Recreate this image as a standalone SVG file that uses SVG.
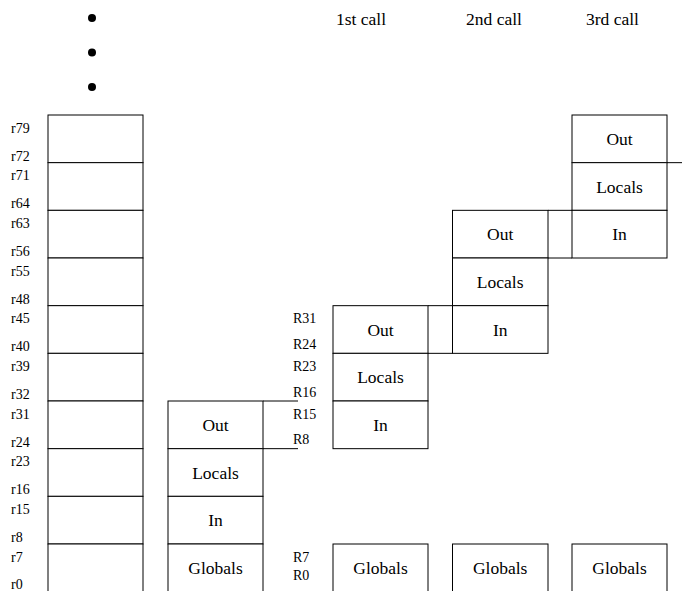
<svg xmlns="http://www.w3.org/2000/svg" width="682" height="591" viewBox="0 0 682 591" font-family="'Liberation Serif', 'Times New Roman', Times, 'DejaVu Serif', serif">
<style>
.b{fill:#fff;stroke:#000;stroke-width:1}
.c{stroke:#000;stroke-width:1;fill:none}
.t{font-size:17.5px;fill:#000;text-anchor:middle}
.h{font-size:17.5px;fill:#000}
.l{font-size:14px;fill:#000}
</style>
<rect width="682" height="591" fill="#fff"/>
<g id="dots">
<circle cx="92" cy="18" r="4"/>
<circle cx="92" cy="52.5" r="4"/>
<circle cx="92" cy="87" r="4"/>
</g>
<g id="headers">
<text class="h" x="336" y="25">1st call</text>
<text class="h" x="466" y="25">2nd call</text>
<text class="h" x="586" y="25">3rd call</text>
</g>
<g id="regfile">
<rect class="b" x="48" y="115" width="95" height="47.67"/>
<rect class="b" x="48" y="162.67" width="95" height="47.67"/>
<rect class="b" x="48" y="210.33" width="95" height="47.67"/>
<rect class="b" x="48" y="258" width="95" height="47.67"/>
<rect class="b" x="48" y="305.67" width="95" height="47.67"/>
<rect class="b" x="48" y="353.33" width="95" height="47.67"/>
<rect class="b" x="48" y="401" width="95" height="47.67"/>
<rect class="b" x="48" y="448.67" width="95" height="47.67"/>
<rect class="b" x="48" y="496.33" width="95" height="47.67"/>
<rect class="b" x="48" y="544" width="95" height="60"/>
<text class="l" x="11" y="132.5">r79</text><text class="l" x="11" y="160.7">r72</text>
<text class="l" x="11" y="180.2">r71</text><text class="l" x="11" y="208.3">r64</text>
<text class="l" x="11" y="227.8">r63</text><text class="l" x="11" y="256">r56</text>
<text class="l" x="11" y="275.5">r55</text><text class="l" x="11" y="303.7">r48</text>
<text class="l" x="11" y="323.2">r45</text><text class="l" x="11" y="351.3">r40</text>
<text class="l" x="11" y="370.8">r39</text><text class="l" x="11" y="399">r32</text>
<text class="l" x="11" y="418.5">r31</text><text class="l" x="11" y="446.7">r24</text>
<text class="l" x="11" y="466.2">r23</text><text class="l" x="11" y="494.3">r16</text>
<text class="l" x="11" y="513.8">r15</text><text class="l" x="11" y="542">r8</text>
<text class="l" x="11" y="561.5">r7</text><text class="l" x="11" y="588.5">r0</text>
</g>
<g id="caller">
<rect class="b" x="168" y="401" width="95" height="47.67"/><text class="t" x="215.5" y="430.8">Out</text>
<rect class="b" x="168" y="448.67" width="95" height="47.67"/><text class="t" x="215.5" y="478.5">Locals</text>
<rect class="b" x="168" y="496.33" width="95" height="47.67"/><text class="t" x="215.5" y="526.2">In</text>
<rect class="b" x="168" y="544" width="95" height="60"/><text class="t" x="215.5" y="573.8">Globals</text>
</g>
<g id="call1">
<rect class="b" x="333" y="305.67" width="95" height="47.67"/><text class="t" x="380.5" y="335.5">Out</text>
<rect class="b" x="333" y="353.33" width="95" height="47.67"/><text class="t" x="380.5" y="383.2">Locals</text>
<rect class="b" x="333" y="401" width="95" height="47.67"/><text class="t" x="380.5" y="430.8">In</text>
<rect class="b" x="333" y="544" width="95" height="60"/><text class="t" x="380.5" y="573.8">Globals</text>
<text class="l" x="293" y="323.2">R31</text><text class="l" x="293" y="349">R24</text>
<text class="l" x="293" y="370.8">R23</text><text class="l" x="293" y="396.7">R16</text>
<text class="l" x="293" y="418.5">R15</text><text class="l" x="293" y="443.8">R8</text>
<text class="l" x="293" y="561.5">R7</text><text class="l" x="293" y="580">R0</text>
</g>
<g id="call2">
<rect class="b" x="452.5" y="210.33" width="95.5" height="47.67"/><text class="t" x="500.2" y="240.2">Out</text>
<rect class="b" x="452.5" y="258" width="95.5" height="47.67"/><text class="t" x="500.2" y="287.8">Locals</text>
<rect class="b" x="452.5" y="305.67" width="95.5" height="47.67"/><text class="t" x="500.2" y="335.5">In</text>
<rect class="b" x="452.5" y="544" width="95.5" height="60"/><text class="t" x="500.2" y="573.8">Globals</text>
</g>
<g id="call3">
<rect class="b" x="572" y="115" width="95" height="47.67"/><text class="t" x="619.5" y="144.8">Out</text>
<rect class="b" x="572" y="162.67" width="95" height="47.67"/><text class="t" x="619.5" y="192.5">Locals</text>
<rect class="b" x="572" y="210.33" width="95" height="47.67"/><text class="t" x="619.5" y="240.2">In</text>
<rect class="b" x="572" y="544" width="95" height="60"/><text class="t" x="619.5" y="573.8">Globals</text>
</g>
<g id="connectors">
<line class="c" x1="263" y1="401" x2="298" y2="401"/>
<line class="c" x1="263" y1="448.67" x2="298" y2="448.67"/>
<line class="c" x1="428" y1="305.67" x2="452.5" y2="305.67"/>
<line class="c" x1="428" y1="353.33" x2="452.5" y2="353.33"/>
<line class="c" x1="548" y1="210.33" x2="572" y2="210.33"/>
<line class="c" x1="548" y1="258" x2="572" y2="258"/>
<line class="c" x1="667" y1="162.67" x2="682" y2="162.67"/>
</g>
</svg>
